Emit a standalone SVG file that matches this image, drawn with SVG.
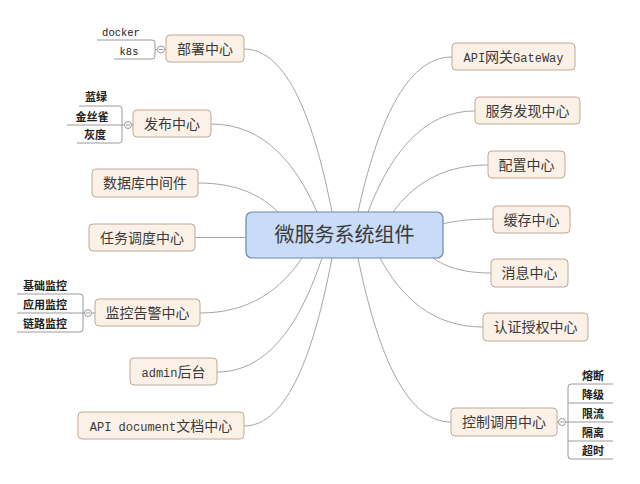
<svg xmlns="http://www.w3.org/2000/svg" width="640" height="484" viewBox="0 0 640 484">
<style>
.n{fill:#fcf1e7;stroke:#bcaa98;stroke-width:1}
.c{fill:#c8dbf8;stroke:#6f85ab;stroke-width:1.2}
.t{font-family:"Liberation Mono","Noto Sans CJK SC",monospace;font-size:14px;fill:#3a3a3a;text-anchor:middle}
.a{font-size:12px}
.ct{font-family:"Noto Sans CJK SC",sans-serif;font-size:20px;fill:#3a3a3a;text-anchor:middle}
.s{font-family:"Noto Sans CJK SC",sans-serif;font-size:11px;font-weight:bold;fill:#222;text-anchor:middle}
.m{font-family:"Liberation Mono",monospace;font-size:10.5px;fill:#222;text-anchor:middle}
.l{fill:none;stroke:#a6a6a6;stroke-width:1}
.b{fill:none;stroke:#9a9a9a;stroke-width:1}
.k{fill:#fff;stroke:#999;stroke-width:1}
</style>
<rect width="640" height="484" fill="#fff"/>
<g id="connectors">
<path class="l" d="M244,49 C288,49 314.4,122.4 332,212"/>
<path class="l" d="M211,124 C264,124 295.8,163.6 317,212"/>
<path class="l" d="M198,183 C238,183 262,196 278,212"/>
<path class="l" d="M195,237.5 L246,237.5"/>
<path class="l" d="M200,313 C251,313 281.6,288.3 302,258"/>
<path class="l" d="M217,372 C269.5,372 301,320.7 322,258"/>
<path class="l" d="M244,426 C288,426 314.4,350.4 332,258"/>
<path class="l" d="M452,57 C405,57 376.8,126.8 358,212"/>
<path class="l" d="M475,111 C421.5,111 389.4,156.5 368,212"/>
<path class="l" d="M488,165 C440.5,165 412,186.2 393,212"/>
<path class="l" d="M493,219 C468,219 453,221.3 443,224"/>
<path class="l" d="M491,273 C462,273 444.6,266.3 433,258"/>
<path class="l" d="M483,327 C431.5,327 400.6,296 380,258"/>
<path class="l" d="M451,422 C404.5,422 376.6,348.2 358,258"/>
</g>
<g id="center">
<rect class="c" x="246" y="212" width="197" height="46" rx="6"/>
<text class="ct" x="344.5" y="242">微服务系统组件</text>
</g>
<g id="deploy">
<rect class="n" x="166" y="35" width="78" height="27" rx="4"/>
<text class="t" x="205" y="54">部署中心</text>
<path class="b" d="M97,40 H152 Q155,40 155,43 V56 Q155,59 152,59 H114 M155,49.5 H157.5 M164.5,49.5 H166"/>
<circle class="k" cx="161" cy="49.5" r="3.5"/>
<path class="b" d="M159,49.5 H163"/>
<text class="m" x="121" y="36">docker</text>
<text class="m" x="129" y="55">k8s</text>
</g>
<g id="release">
<rect class="n" x="133" y="110" width="78" height="27" rx="4"/>
<text class="t" x="172" y="129">发布中心</text>
<path class="b" d="M79,106 H119 Q122,106 122,109 V140 Q122,143 119,143 H77 M67,125 H124.5 M131.5,125 H133"/>
<circle class="k" cx="128" cy="125" r="3.5"/>
<path class="b" d="M126,125 H130"/>
<text class="s" x="96" y="101">蓝绿</text>
<text class="s" x="92" y="121">金丝雀</text>
<text class="s" x="95" y="139">灰度</text>
</g>
<g id="db">
<rect class="n" x="92" y="169" width="106" height="28" rx="4"/>
<text class="t" x="145" y="188">数据库中间件</text>
</g>
<g id="task">
<rect class="n" x="89" y="224" width="106" height="27" rx="4"/>
<text class="t" x="142" y="242.5">任务调度中心</text>
</g>
<g id="monitor">
<rect class="n" x="95" y="299" width="105" height="27" rx="4"/>
<text class="t" x="147.5" y="318">监控告警中心</text>
<path class="b" d="M17,294 H80 Q83,294 83,297 V329 Q83,332 80,332 H17 M17,313 H84.5 M91.5,313 H95"/>
<circle class="k" cx="88" cy="313" r="3.5"/>
<path class="b" d="M86,313 H90"/>
<text class="s" x="45" y="290">基础监控</text>
<text class="s" x="45" y="309">应用监控</text>
<text class="s" x="45" y="328">链路监控</text>
</g>
<g id="admin">
<rect class="n" x="130" y="358" width="87" height="27" rx="4"/>
<text class="t" x="173.5" y="377"><tspan class="a">admin</tspan>后台</text>
</g>
<g id="apidoc">
<rect class="n" x="78" y="412" width="166" height="27" rx="4"/>
<text class="t" x="161" y="431"><tspan class="a">API document</tspan>文档中心</text>
</g>
<g id="gateway">
<rect class="n" x="452" y="43" width="123" height="27" rx="4"/>
<text class="t" x="513.5" y="62"><tspan class="a">API</tspan>网关<tspan class="a">GateWay</tspan></text>
</g>
<g id="discovery">
<rect class="n" x="475" y="97" width="105" height="27" rx="4"/>
<text class="t" x="527.5" y="116">服务发现中心</text>
</g>
<g id="config">
<rect class="n" x="488" y="151" width="77" height="27" rx="4"/>
<text class="t" x="526.5" y="170">配置中心</text>
</g>
<g id="cache">
<rect class="n" x="493" y="206" width="77" height="27" rx="4"/>
<text class="t" x="531.5" y="225">缓存中心</text>
</g>
<g id="message">
<rect class="n" x="491" y="259" width="77" height="28" rx="4"/>
<text class="t" x="529.5" y="278">消息中心</text>
</g>
<g id="auth">
<rect class="n" x="483" y="313" width="105" height="28" rx="4"/>
<text class="t" x="535.5" y="332">认证授权中心</text>
</g>
<g id="control">
<rect class="n" x="451" y="408" width="106" height="28" rx="4"/>
<text class="t" x="504" y="427">控制调用中心</text>
<path class="b" d="M613,384 H571 Q568,384 568,387 V456 Q568,459 571,459 H613 M568,403 H613 M565.5,422 H613 M568,441 H613 M557,422 H558.5"/>
<circle class="k" cx="562" cy="422" r="3.5"/>
<path class="b" d="M560,422 H564"/>
<text class="s" x="593" y="380">熔断</text>
<text class="s" x="593" y="399">降级</text>
<text class="s" x="593" y="418">限流</text>
<text class="s" x="593" y="437">隔离</text>
<text class="s" x="593" y="455">超时</text>
</g>
</svg>
